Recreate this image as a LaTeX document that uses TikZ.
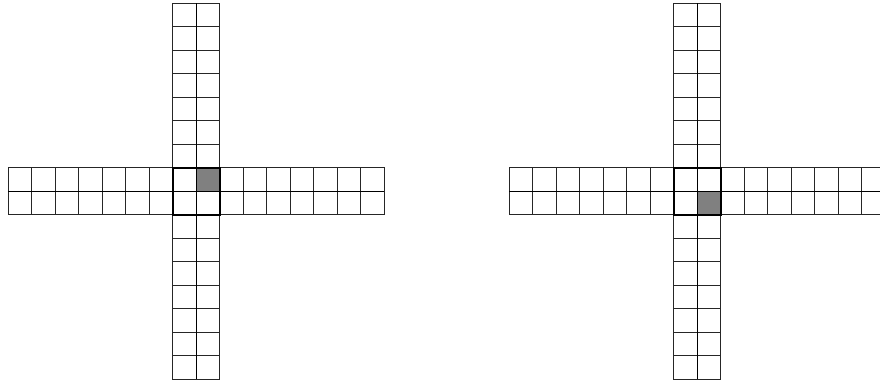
\documentclass[tikz,border=0pt]{standalone}
\begin{document}
\begin{tikzpicture}[x=0.025cm,y=-0.025cm,
  cell/.style={draw=black!85,line width=0.85pt},
  centre/.style={draw=black,line width=1.0pt},
  shaded/.style={fill=black!50}]
\useasboundingbox (0,0) rectangle (880,383);
\clip (0,0) rectangle (880,383);
\def\cs{23.5}
\foreach \ox/\sr in {8.3/7, 509.3/8}{
  \begin{scope}[shift={(\ox,3.3)}]
    \fill[shaded] (8*\cs,\sr*\cs) rectangle ++(\cs,\cs);
    \foreach \i in {0,...,15}{
      \foreach \j in {7,8}{
        \draw[cell] (\i*\cs,\j*\cs) rectangle ++(\cs,\cs);
        \draw[cell] (\j*\cs,\i*\cs) rectangle ++(\cs,\cs);
      }
    }
    \draw[centre] (7*\cs,7*\cs) rectangle (9*\cs,9*\cs);
    \draw[centre] (8*\cs,0) -- (8*\cs,16*\cs) (0,8*\cs) -- (16*\cs,8*\cs);
  \end{scope}
}
\end{tikzpicture}
\end{document}
